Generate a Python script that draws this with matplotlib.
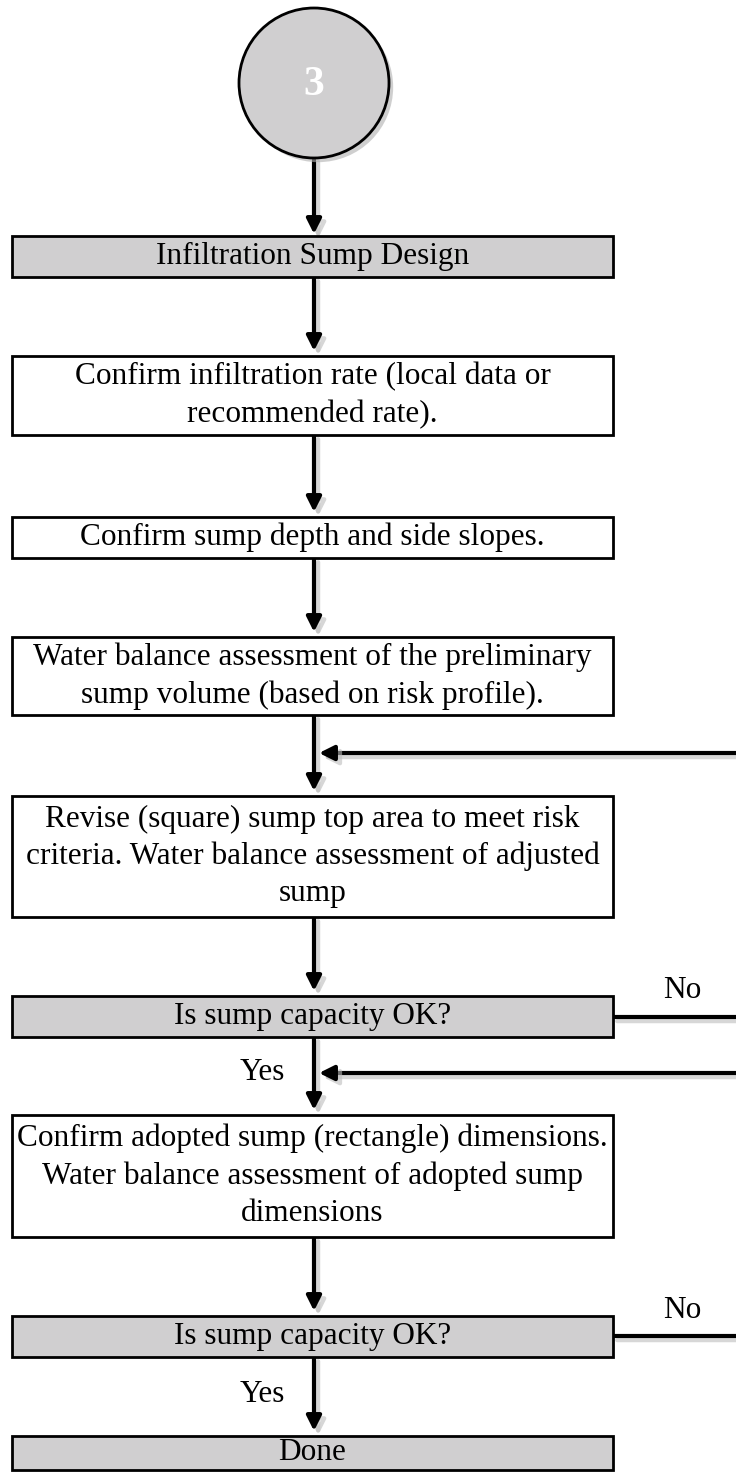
import matplotlib
matplotlib.use("Agg")
import matplotlib.pyplot as plt
import matplotlib.patheffects as pe
from matplotlib.patches import Circle, Rectangle, FancyArrowPatch

# flowchart content
start_label = "3"
step_labels = [
    ["Infiltration Sump Design"],
    ["Confirm infiltration rate (local data or", "recommended rate)."],
    ["Confirm sump depth and side slopes."],
    ["Water balance assessment of the preliminary", "sump volume (based on risk profile)."],
    ["Revise (square) sump top area to meet risk",
     "criteria. Water balance assessment of adjusted", "sump"],
    ["Is sump capacity OK?"],
    ["Confirm adopted sump (rectangle) dimensions.",
     "Water balance assessment of adopted sump", "dimensions"],
    ["Is sump capacity OK?"],
    ["Done"],
]
step_kinds = ["head", "process", "process", "process", "process",
              "decision", "process", "decision", "end"]
yes_label = "Yes"
no_label = "No"

# layout (pixels, y down)
box_top = [236, 356, 517, 637, 796, 996, 1115, 1316, 1436]
box_bot = [277, 435, 558, 715, 917, 1037, 1237, 1357, 1470]
box_left, box_right = 12, 613
cx = 314
circ_y, circ_r = 83, 75
loop_y = [753, 1073]       # arrows coming back in from the right
no_y = [1017, 1336]        # "No" exits
yes_y = [1073, 1395]
line_pitch = 37.5

GRAY = "#d0cfd0"
FONT = "Liberation Serif"
FS = 22.5

shadow = [pe.SimpleLineShadow(offset=(3, -3), shadow_color="#bdbdbd", alpha=0.6),
          pe.Normal()]

fig = plt.figure(figsize=(7.36, 14.72), dpi=100)
ax = fig.add_axes([0, 0, 1, 1])
ax.set_xlim(0, 736)
ax.set_ylim(1472, 0)
ax.axis("off")


def arrow(x0, y0, x1, y1, head=True):
    st = "-|>" if head else "-"
    a = FancyArrowPatch((x0, y0), (x1, y1), arrowstyle=st, mutation_scale=22,
                        lw=3, color="black", shrinkA=0, shrinkB=0,
                        path_effects=shadow, zorder=2)
    ax.add_patch(a)


# start circle
c = Circle((cx, circ_y), circ_r, facecolor=GRAY, edgecolor="black", lw=2,
           zorder=3, path_effects=[pe.SimplePatchShadow(offset=(3, -3), shadow_rgbFace="#b0b0b0", alpha=0.6), pe.Normal()])
ax.add_patch(c)
ax.text(cx, circ_y + 2, start_label, color="white", fontsize=30, fontweight="bold",
        family=FONT, ha="center", va="center", zorder=4)
arrow(cx, circ_y + circ_r, cx, box_top[0] - 2)

# boxes
for i, (lines, kind) in enumerate(zip(step_labels, step_kinds)):
    t, b = box_top[i], box_bot[i]
    fc = "white" if kind == "process" else GRAY
    ax.add_patch(Rectangle((box_left, t), box_right - box_left, b - t,
                           facecolor=fc, edgecolor="black", lw=2, zorder=3))
    mid = (t + b) / 2
    n = len(lines)
    for j, s in enumerate(lines):
        y = mid + (j - (n - 1) / 2) * line_pitch
        ax.text((box_left + box_right) / 2, y, s, fontsize=FS, family=FONT,
                ha="center", va="center", zorder=4)
    if i < len(step_labels) - 1:
        arrow(cx, b, cx, box_top[i + 1] - 5)

# loops back in from the right
for y in loop_y:
    arrow(770, y, 319, y)

# "No" exits to the right
for y in no_y:
    arrow(box_right, y, 770, y, head=False)
    ax.text(682, y - 26, no_label, fontsize=FS, family=FONT, ha="center", va="center")

# "Yes" labels
for y in yes_y:
    ax.text(285, y, yes_label, fontsize=FS, family=FONT, ha="right", va="center")

fig.savefig("out.png", dpi=100, facecolor="white")
